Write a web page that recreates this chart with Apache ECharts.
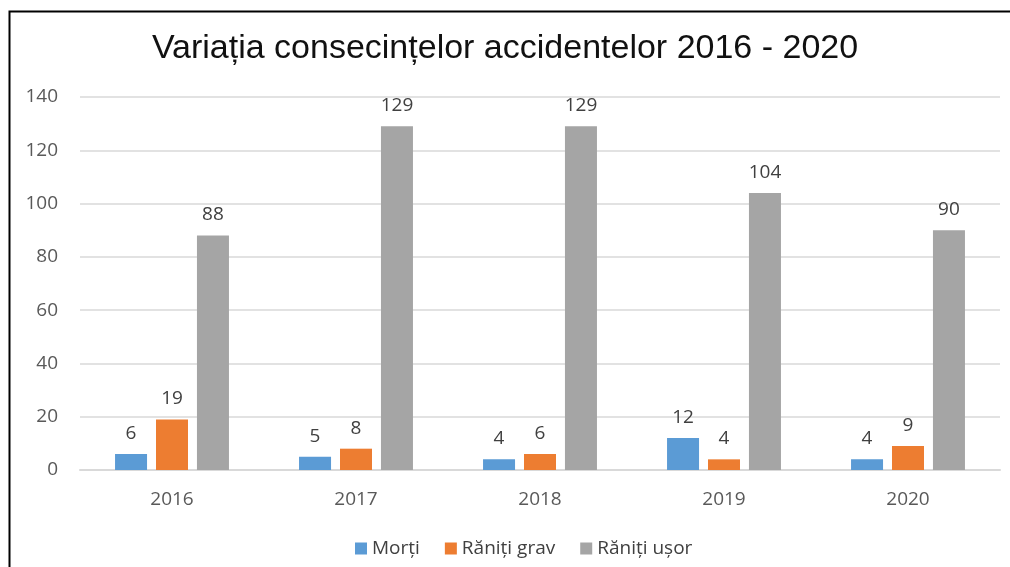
<!DOCTYPE html>
<html>
<head>
<meta charset="utf-8">
<script src="https://cdn.jsdelivr.net/npm/echarts@6/dist/echarts.min.js"></script>
<style>
  html, body { margin: 0; padding: 0; background: #fff; }
  #main { width: 1010px; height: 567px; }
</style>
</head>
<body>
<div id="main"></div>
<script>
const years = ['2016', '2017', '2018', '2019', '2020']
const morti = [6, 5, 4, 12, 4]
const ranitiGrav = [19, 8, 6, 4, 9]
const ranitiUsor = [88, 129, 129, 104, 90]
const yTicks = [0, 20, 40, 60, 80, 100, 120, 140]

const labelFont = '"Open Sans", sans-serif'

const chart = echarts.init(document.getElementById('main'))

function barSeries(name, data, color) {
  return {
    name: name,
    type: 'bar',
    data: data,
    barWidth: 32,
    barGap: '28%',
    itemStyle: { color: color },
    label: {
      show: true,
      position: 'top',
      distance: 11,
      color: '#404040',
      fontSize: 19,
      fontFamily: labelFont
    }
  }
}

chart.setOption({
  animation: false,
  title: {
    text: 'Variația consecințelor accidentelor 2016 - 2020',
    left: 'center',
    top: 27,
    textStyle: {
      fontFamily: '"Liberation Sans", Arial, sans-serif',
      fontWeight: 'normal',
      fontSize: 34,
      color: '#111'
    }
  },
  legend: {
    bottom: 4,
    left: 350,
    icon: 'rect',
    itemWidth: 12,
    itemHeight: 12,
    itemGap: 25,
    textStyle: { color: '#404040', fontSize: 19, fontFamily: labelFont }
  },
  grid: { left: 80, right: 10, top: 97, bottom: 97 },
  xAxis: {
    type: 'category',
    data: years,
    axisTick: { show: false },
    axisLine: { lineStyle: { color: '#d9d9d9', width: 2 } },
    axisLabel: { color: '#595959', fontSize: 19, margin: 20, fontFamily: labelFont }
  },
  yAxis: {
    type: 'value',
    min: yTicks[0],
    max: yTicks[yTicks.length - 1],
    interval: 20,
    axisLine: { show: false },
    axisTick: { show: false },
    splitLine: { lineStyle: { color: '#d9d9d9', width: 1.5 } },
    axisLabel: { color: '#595959', fontSize: 19, margin: 22, fontFamily: labelFont }
  },
  series: [
    barSeries('Morți', morti, '#5b9bd5'),
    barSeries('Răniți grav', ranitiGrav, '#ed7d31'),
    barSeries('Răniți ușor', ranitiUsor, '#a5a5a5')
  ],
  graphic: [{
    type: 'polyline',
    shape: { points: [[9.5, 567], [9.5, 11.5], [1010, 11.5]] },
    style: { stroke: '#000', lineWidth: 2, fill: null }
  }]
})
</script>
</body>
</html>
